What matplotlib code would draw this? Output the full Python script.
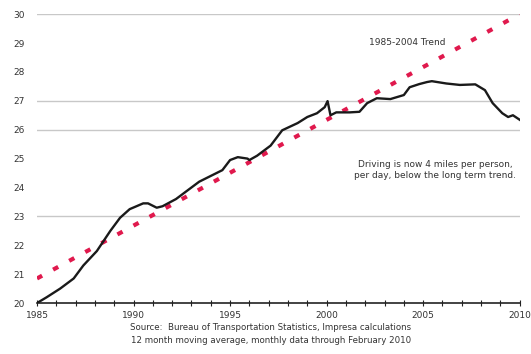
import numpy as np
import matplotlib.pyplot as plt

# Daily vehicle miles per person, 12 month moving average
years = [1985.0, 1985.5, 1986.2, 1986.9, 1987.4, 1988.1, 1988.8, 1989.3, 1989.8,
         1990.5, 1990.75, 1991.2, 1991.5, 1992.2, 1992.8, 1993.4, 1994.0, 1994.6,
         1995.0, 1995.4, 1995.9, 1996.0, 1996.4, 1997.1, 1997.7, 1998.5, 1999.0,
         1999.5, 1999.9, 2000.05, 2000.2, 2000.5, 2001.2, 2001.7, 2002.1, 2002.6,
         2003.3, 2004.0, 2004.3, 2004.8, 2005.2, 2005.45, 2006.2, 2006.9, 2007.7,
         2008.2, 2008.6, 2009.1, 2009.4, 2009.65, 2010.1]
miles = [20.0, 20.2, 20.5, 20.85, 21.3, 21.8, 22.5, 22.95, 23.25,
         23.45, 23.45, 23.3, 23.35, 23.6, 23.9, 24.2, 24.4, 24.6,
         24.95, 25.05, 25.0, 24.95, 25.1, 25.45, 25.98, 26.23, 26.44,
         26.57, 26.78, 26.99, 26.5, 26.6, 26.6, 26.62, 26.92, 27.09,
         27.06, 27.2, 27.47, 27.58, 27.65, 27.68, 27.6, 27.55, 27.57,
         27.37, 26.92, 26.57, 26.44, 26.5, 26.3]

trend_years = [1985, 2010]
trend_vals = [20.85, 30.0]

grid_levels = [23, 26, 27, 30]
label_years = [1985, 1990, 1995, 2000, 2005, 2010]

fig = plt.figure(figsize=(5.31, 3.54), dpi=100)
ax = fig.add_axes([0.0697, 0.144, 0.909, 0.816])

for g in grid_levels:
    ax.axhline(g, color='#c8c8c8', lw=1.0, zorder=0)

ax.plot(trend_years, trend_vals, color='#e0194d', lw=3, linestyle=(0, (1.4, 3.0)),
        zorder=2)
ax.plot(years, miles, color='#1a1a1a', lw=1.7, zorder=3)

ax.set_xlim(1985, 2010)
ax.set_ylim(20, 30)
ax.set_yticks(range(20, 31))
ax.set_xticks(label_years)
ax.set_xticks(range(1985, 2011), minor=True)

for s in ['top', 'right', 'left']:
    ax.spines[s].set_visible(False)
ax.spines['bottom'].set_color('#222222')
ax.spines['bottom'].set_linewidth(1.2)

ax.tick_params(axis='y', length=0, labelsize=6.5, labelcolor='#333333', pad=9)
ax.tick_params(axis='x', which='both', direction='inout', length=5, width=0.8,
               color='#222222', labelsize=6.5, labelcolor='#333333', pad=3)

ax.text(2004.2, 29.03, '1985-2004 Trend', fontsize=6.5, color='#333333',
        ha='center', va='center')
ax.text(2009.8, 24.6, 'Driving is now 4 miles per person,\nper day, below the long term trend.',
        fontsize=6.5, color='#333333', ha='right', va='center', multialignment='center',
        linespacing=1.3)

fig.text(0.51, 0.076, 'Source:  Bureau of Transportation Statistics, Impresa calculations',
         fontsize=6.2, color='#333333', ha='center', va='center')
fig.text(0.51, 0.037, '12 month moving average, monthly data through February 2010',
         fontsize=6.2, color='#333333', ha='center', va='center')

fig.savefig('out.png', dpi=100)
